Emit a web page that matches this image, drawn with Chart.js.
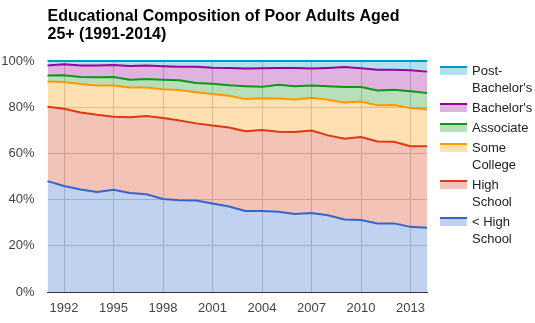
<!DOCTYPE html>
<html>
<head>
<meta charset="utf-8">
<script src="https://cdn.jsdelivr.net/npm/chart.js@4.4.1/dist/chart.umd.min.js"></script>
<style>
  html, body { margin: 0; padding: 0; background: #fff; }
  .wrap { position: relative; width: 535px; height: 323px; }
  #legend { position: absolute; left: 440px; top: 62px; font: 13px Arial, "Liberation Sans", sans-serif; color: #222; }
  .item { display: flex; align-items: flex-start; margin-bottom: 3px; }
  .swatch { width: 27px; height: 7px; margin-top: 4px; margin-right: 5px; box-sizing: content-box; }
  .label { width: 64px; line-height: 17px; }
</style>
</head>
<body>
<div class="wrap">
  <canvas id="chart" width="535" height="323"></canvas>
  <div id="legend"></div>
</div>
<script>
const years = [1991, 1992, 1993, 1994, 1995, 1996, 1997, 1998, 1999, 2000, 2001, 2002,
  2003, 2004, 2005, 2006, 2007, 2008, 2009, 2010, 2011, 2012, 2013, 2014];
const tickYears = [1992, 1995, 1998, 2001, 2004, 2007, 2010, 2013];

// share of poor adults 25+ by highest level of schooling, percent
const lessThanHS = [48.0, 45.9, 44.4, 43.3, 44.3, 42.9, 42.3, 40.3, 39.7, 39.6, 38.3, 37.0,
  35.1, 35.1, 34.7, 33.8, 34.2, 33.2, 31.4, 31.2, 29.7, 29.7, 28.2, 27.8];
const highSchool = [32.2, 33.4, 33.3, 33.4, 31.6, 32.8, 33.9, 35.0, 34.5, 33.4, 33.8, 34.2,
  34.5, 35.0, 34.7, 35.5, 35.7, 34.6, 34.9, 35.9, 35.5, 35.3, 34.9, 35.3];
const someCollege = [10.9, 11.6, 12.3, 12.7, 13.5, 12.8, 12.3, 12.5, 13.2, 13.5, 13.6, 13.8,
  14.0, 13.8, 14.4, 14.0, 14.2, 15.4, 15.7, 15.4, 15.6, 15.9, 16.5, 15.9];
const associate = [2.6, 2.9, 3.1, 3.6, 3.7, 3.4, 3.7, 4.1, 4.3, 4.0, 4.5, 4.5,
  5.5, 4.9, 5.9, 5.8, 5.3, 5.9, 6.7, 6.2, 6.4, 6.6, 7.3, 7.1];
const bachelors = [4.3, 4.8, 4.9, 5.1, 5.2, 5.9, 5.8, 5.8, 5.8, 7.0, 6.9, 7.5,
  7.6, 8.1, 7.3, 7.9, 7.3, 7.9, 8.7, 8.2, 9.0, 8.7, 9.1, 9.3];
const postBachelors = [2.0, 1.4, 2.0, 1.9, 1.7, 2.2, 2.0, 2.3, 2.5, 2.5, 2.9, 3.0,
  3.3, 3.1, 3.0, 3.0, 3.3, 3.0, 2.6, 3.1, 3.8, 3.8, 4.0, 4.6];

const titleLines = ['Educational Composition of Poor Adults Aged', '25+ (1991-2014)'];

function series(label, data, rgb, first) {
  return {
    label,
    data,
    borderColor: `rgb(${rgb})`,
    backgroundColor: `rgba(${rgb},0.3)`,
    borderWidth: 2,
    pointRadius: 0,
    tension: 0,
    fill: first ? 'origin' : '-1',
    clip: false
  };
}

// title drawn flush with the plot's left edge
const titlePlugin = {
  id: 'leftTitle',
  afterDraw(chart) {
    const { ctx, chartArea } = chart;
    ctx.save();
    ctx.font = 'bold 16px Arial, "Liberation Sans", sans-serif';
    ctx.fillStyle = '#000';
    ctx.textBaseline = 'alphabetic';
    ctx.fillText(titleLines[0], chartArea.left, 21);
    ctx.fillText(titleLines[1], chartArea.left, 38.5);
    ctx.restore();
  }
};

const font = { family: 'Arial, "Liberation Sans", sans-serif', size: 13 };

const chart = new Chart(document.getElementById('chart'), {
  type: 'line',
  data: {
    labels: years,
    datasets: [
      series('< High School', lessThanHS, '51,102,204', true),
      series('High School', highSchool, '220,57,18'),
      series('Some College', someCollege, '255,153,0'),
      series('Associate', associate, '16,150,24'),
      series("Bachelor's", bachelors, '153,0,153'),
      series("Post-Bachelor's", postBachelors, '0,153,198')
    ]
  },
  options: {
    responsive: false,
    animation: false,
    layout: { padding: { top: 61, right: 108, left: 0, bottom: 0 } },
    plugins: {
      legend: { display: false },
      tooltip: { enabled: false },
      filler: { drawTime: 'beforeDatasetsDraw' }
    },
    scales: {
      x: {
        type: 'linear',
        min: 1991,
        max: 2014,
        afterBuildTicks: scale => { scale.ticks = tickYears.map(value => ({ value })); },
        afterFit: scale => { scale.height = 31; },
        grid: { color: '#ccc', drawTicks: false },
        border: { color: '#333', width: 1 },
        ticks: { font, color: '#444', padding: 9, maxRotation: 0, callback: v => String(v) }
      },
      y: {
        stacked: true,
        min: 0,
        max: 100,
        afterFit: scale => { scale.width = 47.5; },
        grid: { color: '#ccc', drawTicks: false },
        border: { display: false },
        ticks: { font, color: '#444', padding: 13, stepSize: 20, callback: v => v + '%' }
      }
    }
  },
  plugins: [titlePlugin]
});

// legend, top band first
const legend = document.getElementById('legend');
chart.data.datasets.slice().reverse().forEach(ds => {
  const item = document.createElement('div');
  item.className = 'item';
  const sw = document.createElement('div');
  sw.className = 'swatch';
  sw.style.borderTop = `2px solid ${ds.borderColor}`;
  sw.style.background = ds.backgroundColor;
  const text = document.createElement('div');
  text.className = 'label';
  text.textContent = ds.label;
  item.appendChild(sw);
  item.appendChild(text);
  legend.appendChild(item);
});
</script>
</body>
</html>
